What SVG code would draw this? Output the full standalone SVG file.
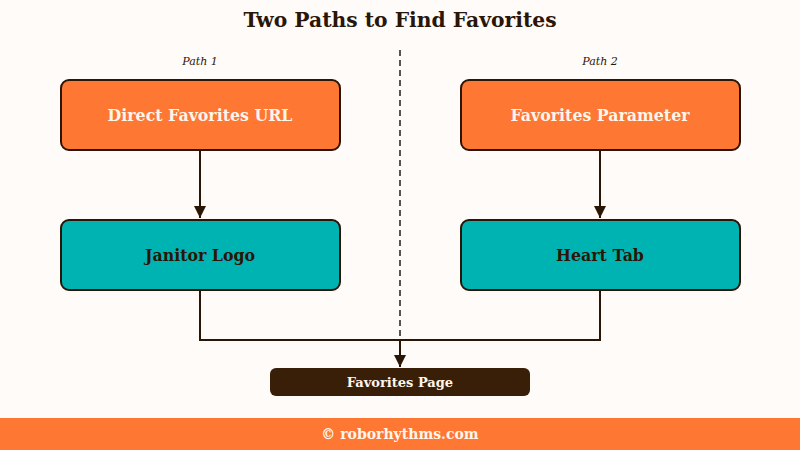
<svg xmlns="http://www.w3.org/2000/svg" width="800" height="450" viewBox="0 0 800 450">
<defs>
<style>
.t{font-family:"DejaVu Serif","Liberation Serif",serif;font-weight:bold;text-anchor:middle}
.node{stroke:#2a1606;stroke-width:2}
.orange{fill:#fe7733}
.teal{fill:#00b3b3}
.conn{fill:none;stroke:#2a1606;stroke-width:2}
</style>
<marker id="ah" markerWidth="12" markerHeight="12" viewBox="0 0 10 10" refX="10" refY="5" orient="auto" markerUnits="userSpaceOnUse">
<path d="M0,0 L10,5 L0,10 z" fill="#2a1606"/>
</marker>
</defs>
<rect width="800" height="450" fill="#fffbf9"/>
<text class="t" x="400" y="27" font-size="20.3" fill="#2a1606">Two Paths to Find Favorites</text>
<line x1="400" y1="50" x2="400" y2="340" stroke="#555" stroke-width="2" stroke-dasharray="6,4"/>
<text x="200" y="65" font-family="DejaVu Serif,serif" font-style="italic" font-size="11" text-anchor="middle" fill="#2a1606">Path 1</text>
<text x="600" y="65" font-family="DejaVu Serif,serif" font-style="italic" font-size="11" text-anchor="middle" fill="#2a1606">Path 2</text>
<g id="connectors">
<line class="conn" x1="200" y1="151" x2="200" y2="218" marker-end="url(#ah)"/>
<line class="conn" x1="600" y1="151" x2="600" y2="218" marker-end="url(#ah)"/>
<path class="conn" d="M200,291 V340 H600 V291"/>
<line class="conn" x1="400" y1="340" x2="400" y2="367" marker-end="url(#ah)"/>
</g>
<g id="n1"><rect class="node orange" x="61" y="80" width="279" height="70" rx="8"/><text class="t" x="200" y="121" font-size="15.8" fill="#fff6ea">Direct Favorites URL</text></g>
<g id="n2"><rect class="node orange" x="461" y="80" width="279" height="70" rx="8"/><text class="t" x="600" y="121" font-size="15.8" fill="#fff6ea">Favorites Parameter</text></g>
<g id="n3"><rect class="node teal" x="61" y="220" width="279" height="70" rx="8"/><text class="t" x="200" y="261" font-size="15.8" fill="#2a1606">Janitor Logo</text></g>
<g id="n4"><rect class="node teal" x="461" y="220" width="279" height="70" rx="8"/><text class="t" x="600" y="261" font-size="15.8" fill="#2a1606">Heart Tab</text></g>
<g id="n5"><rect x="270" y="368" width="260" height="28" rx="6" fill="#3a1f08"/><text class="t" x="400" y="387" font-size="13" fill="#fff6ea">Favorites Page</text></g>
<rect x="0" y="418" width="800" height="32" fill="#fe7733"/>
<text class="t" x="400" y="439" font-size="14" fill="#fff6ea">© roborhythms.com</text>
</svg>
